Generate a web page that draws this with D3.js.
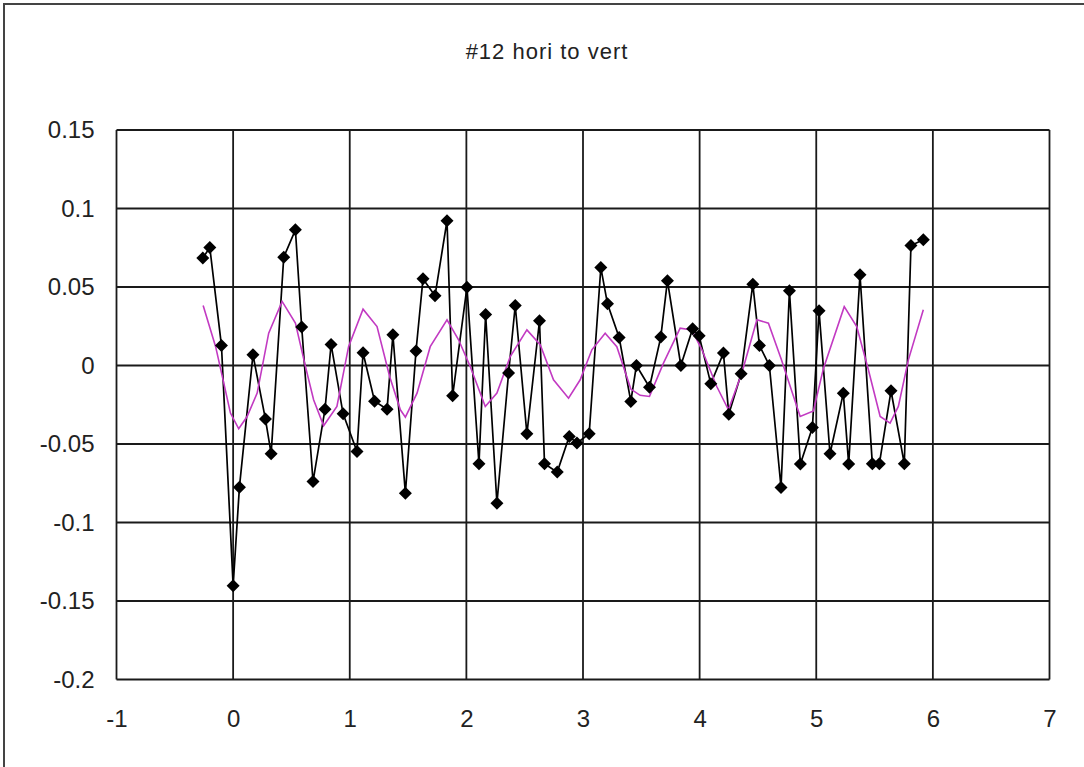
<!DOCTYPE html>
<html>
<head>
<meta charset="utf-8">
<script src="https://cdn.jsdelivr.net/npm/d3@7"></script>
<style>
  html, body { margin: 0; padding: 0; background: #fff; }
  svg { display: block; }
  text { font-family: "Liberation Sans", Arial, sans-serif; fill: #222; }
</style>
</head>
<body>
<div id="chart"></div>
<script>
// measured series (black, with diamond markers)
var blackX = [-0.26, -0.20, -0.10, 0.00, 0.054, 0.17, 0.277, 0.326, 0.434, 0.534, 0.588, 0.685,
  0.788, 0.84, 0.943, 1.062, 1.114, 1.213, 1.32, 1.37, 1.477, 1.568, 1.628, 1.731, 1.834, 1.882,
  2.005, 2.108, 2.165, 2.262, 2.362, 2.419, 2.519, 2.627, 2.67, 2.779, 2.882, 2.948, 3.053, 3.153,
  3.21, 3.31, 3.41, 3.458, 3.57, 3.667, 3.724, 3.839, 3.94, 3.996, 4.096, 4.204, 4.25, 4.356,
  4.456, 4.513, 4.598, 4.698, 4.77, 4.864, 4.967, 5.024, 5.118, 5.232, 5.278, 5.375, 5.481,
  5.541, 5.641, 5.755, 5.812, 5.918]
var blackY = [0.0684, 0.0752, 0.0127, -0.1403, -0.0775, 0.0068, -0.0341, -0.0562, 0.069, 0.0864,
  0.0245, -0.0739, -0.0278, 0.0134, -0.0308, -0.0548, 0.0081, -0.0227, -0.0278, 0.0196, -0.0813,
  0.0092, 0.0552, 0.0444, 0.0922, -0.0193, 0.0499, -0.0626, 0.0325, -0.0877, -0.0048, 0.0382,
  -0.0435, 0.0285, -0.0626, -0.0679, -0.0452, -0.0494, -0.0435, 0.0624, 0.0393, 0.0178, -0.0229,
  0.0, -0.0138, 0.0181, 0.054, 0.0, 0.0234, 0.0189, -0.0117, 0.0079, -0.031, -0.0053, 0.0518,
  0.0127, 0.0, -0.0777, 0.0476, -0.0628, -0.0395, 0.0348, -0.0562, -0.0176, -0.0628, 0.0578,
  -0.0626, -0.0626, -0.0161, -0.0626, 0.0764, 0.0801]

// fitted series (magenta line)
var pinkX = [-0.257, -0.15, -0.08, -0.023, 0.048, 0.12, 0.206, 0.305, 0.42, 0.534, 0.62, 0.69,
  0.776, 0.89, 0.99, 1.114, 1.234, 1.342, 1.434, 1.477, 1.577, 1.69, 1.834, 1.933, 2.033, 2.162,
  2.262, 2.376, 2.519, 2.633, 2.747, 2.876, 2.976, 3.076, 3.19, 3.29, 3.41, 3.49, 3.57, 3.69,
  3.833, 3.933, 4.02, 4.147, 4.247, 4.362, 4.491, 4.59, 4.70, 4.862, 4.976, 5.061, 5.24, 5.347,
  5.447, 5.548, 5.633, 5.704, 5.79, 5.918]
var pinkY = [0.0382, 0.012, -0.0112, -0.0303, -0.0403, -0.0325, -0.0176, 0.0206, 0.0408, 0.027,
  -0.0006, -0.0218, -0.0384, -0.0261, 0.012, 0.0359, 0.0248, -0.007, -0.0282, -0.0329, -0.0176,
  0.012, 0.0291, 0.0164, -0.0006, -0.0261, -0.0176, 0.0057, 0.0227, 0.0132, -0.0091, -0.0208,
  -0.0091, 0.01, 0.0206, 0.012, -0.0150, -0.0190, -0.0197, 0.0015, 0.0238, 0.0227, 0.01, -0.0134,
  -0.0282, -0.0048, 0.0291, 0.027, 0.004, -0.0325, -0.0290, -0.002, 0.0375, 0.0248, -0.0027,
  -0.0325, -0.0367, -0.0261, 0.0036, 0.0355]

var xTicks = [-1, 0, 1, 2, 3, 4, 5, 6, 7]
var yTicks = [0.15, 0.1, 0.05, 0, -0.05, -0.1, -0.15, -0.2]
var title = '#12 hori to vert'

var W = 1084, H = 767
var svg = d3.select('#chart').append('svg')
  .attr('width', W)
  .attr('height', H)

// outer frame (right/bottom edges fall outside the picture)
svg.append('rect')
  .attr('x', 4).attr('y', 4)
  .attr('width', W + 10).attr('height', H + 10)
  .attr('fill', 'none')
  .attr('stroke', '#444')
  .attr('stroke-width', 2)

var x = d3.scaleLinear().domain([-1, 7]).range([116.5, 1049.5])
var y = d3.scaleLinear().domain([-0.2, 0.15]).range([679.5, 130])

// grid
var grid = svg.append('g').attr('stroke', '#1a1a1a').attr('stroke-width', 1.8)
grid.selectAll('.vx').data(xTicks).enter().append('line')
  .attr('x1', d => x(d)).attr('x2', d => x(d))
  .attr('y1', y(0.15)).attr('y2', y(-0.2))
grid.selectAll('.hy').data(yTicks).enter().append('line')
  .attr('x1', x(-1)).attr('x2', x(7))
  .attr('y1', d => y(d)).attr('y2', d => y(d))

// axes labels (plain hyphen for negatives, like the original)
var xAxis = d3.axisBottom(x).tickValues(xTicks).tickSize(0).tickPadding(30)
  .tickFormat(d => String(d))
svg.append('g')
  .attr('transform', 'translate(0,' + y(-0.2) + ')')
  .call(xAxis)
  .call(g => {
    g.select('.domain').remove()
    g.selectAll('text').attr('font-size', 24).attr('fill', '#222')
      .attr('font-family', '"Liberation Sans", Arial, sans-serif')
  })

var yAxis = d3.axisLeft(y).tickValues(yTicks).tickSize(0).tickPadding(22)
  .tickFormat(d => String(d))
svg.append('g')
  .attr('transform', 'translate(' + x(-1) + ',0)')
  .call(yAxis)
  .call(g => {
    g.select('.domain').remove()
    g.selectAll('text').attr('font-size', 24).attr('fill', '#222')
      .attr('font-family', '"Liberation Sans", Arial, sans-serif')
  })

// title
svg.append('text')
  .attr('x', 547).attr('y', 59)
  .attr('text-anchor', 'middle')
  .attr('font-size', 22)
  .attr('letter-spacing', 1)
  .text(title)

var blackData = blackX.map((v, i) => ({ x: v, y: blackY[i] }))
var pinkData = pinkX.map((v, i) => ({ x: v, y: pinkY[i] }))

var line = d3.line().x(d => x(d.x)).y(d => y(d.y))

// black series
svg.append('path')
  .datum(blackData)
  .attr('fill', 'none')
  .attr('stroke', '#000')
  .attr('stroke-width', 1.7)
  .attr('d', line)

// magenta series
svg.append('path')
  .datum(pinkData)
  .attr('fill', 'none')
  .attr('stroke', '#c23ac2')
  .attr('stroke-width', 1.6)
  .attr('d', line)

// diamond markers
svg.append('g').selectAll('path')
  .data(blackData)
  .enter()
  .append('path')
  .attr('transform', d => 'translate(' + x(d.x) + ',' + y(d.y) + ')')
  .attr('d', 'M0,-6.5L6.5,0L0,6.5L-6.5,0Z')
  .attr('fill', '#000')
</script>
</body>
</html>
